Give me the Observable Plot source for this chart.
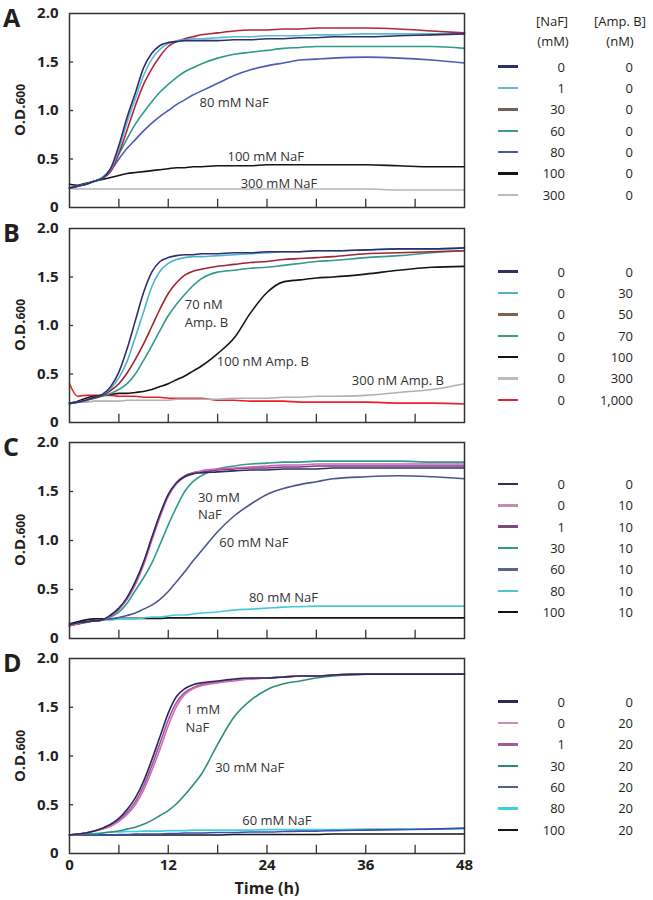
<!DOCTYPE html>
<html><head><meta charset="utf-8">
<script src="https://cdn.jsdelivr.net/npm/d3@7"></script>
<script src="https://cdn.jsdelivr.net/npm/@observablehq/plot@0.6"></script>
<style>
body{margin:0;background:#fff;font-family:"Open Sans",sans-serif;color:#231f20}
#root{position:relative;width:653px;height:900px;overflow:hidden}
.abs{position:absolute;white-space:nowrap}
.letter{font-weight:bold;font-size:25px;line-height:25px}
.ylab{font-weight:bold;font-size:15px;transform:translate(-50%,-50%) rotate(-90deg)}
.ylab span{font-size:12px}
.lg{font-size:13px;line-height:16px}
.sw{height:2.5px;width:20px}
.xt{font-weight:bold;font-size:16px;transform:translate(-50%,-50%)}
</style></head>
<body><div id="root"></div>
<script>
// ---------- data ----------
const hours = [0,1,2,3,4,5,6,7,8,9,10,11,12,13,14,15,16,18,20,22,24,26,28,30,32,36,40,44,48];
const yTickValues = [0, 0.5, 1, 1.5, 2];
const xTickHours = [6, 12, 18, 24, 30, 36, 42];
const xLabelHours = [0, 12, 24, 36, 48];

// Panel A : NaF series, no Amp. B
const nafA = ["0","1","30","60","80","100","300"];
const ampA = ["0","0","0","0","0","0","0"];
const A_naf0   = [0.20,0.22,0.24,0.27,0.30,0.40,0.64,0.93,1.18,1.44,1.59,1.67,1.70,1.71,1.72,1.72,1.72,1.72,1.73,1.73,1.74,1.74,1.75,1.75,1.76,1.76,1.77,1.78,1.79];
const A_naf1   = [0.20,0.22,0.24,0.27,0.30,0.39,0.60,0.88,1.12,1.36,1.53,1.63,1.69,1.72,1.73,1.74,1.74,1.75,1.76,1.76,1.77,1.77,1.77,1.78,1.78,1.79,1.79,1.79,1.79];
const A_naf30  = [0.20,0.22,0.24,0.27,0.30,0.37,0.56,0.80,1.05,1.27,1.43,1.56,1.66,1.71,1.74,1.76,1.78,1.80,1.82,1.83,1.83,1.84,1.84,1.85,1.85,1.85,1.84,1.82,1.80];
const A_naf60  = [0.20,0.22,0.24,0.27,0.31,0.40,0.55,0.71,0.86,0.98,1.09,1.19,1.27,1.34,1.40,1.44,1.48,1.54,1.58,1.60,1.62,1.64,1.65,1.66,1.66,1.66,1.66,1.66,1.64];
const A_naf80  = [0.20,0.22,0.24,0.27,0.30,0.38,0.50,0.61,0.70,0.79,0.87,0.94,1.00,1.06,1.11,1.16,1.20,1.28,1.36,1.42,1.46,1.49,1.52,1.53,1.54,1.55,1.54,1.52,1.49];
const A_naf100 = [0.24,0.23,0.25,0.27,0.29,0.31,0.33,0.35,0.36,0.37,0.38,0.39,0.40,0.41,0.41,0.42,0.42,0.43,0.43,0.43,0.44,0.44,0.44,0.44,0.44,0.44,0.43,0.42,0.42];
const A_naf300 = [0.20,0.19,0.19,0.19,0.19,0.19,0.19,0.19,0.19,0.19,0.19,0.19,0.19,0.19,0.19,0.19,0.19,0.19,0.19,0.19,0.19,0.19,0.19,0.19,0.19,0.19,0.18,0.18,0.18];

// Panel B : Amp. B series, no NaF
const nafB = ["0","0","0","0","0","0","0"];
const ampB = ["0","30","50","70","100","300","1,000"];
const B_amp0    = [0.20,0.21,0.23,0.26,0.29,0.37,0.52,0.76,1.05,1.34,1.55,1.66,1.70,1.72,1.73,1.73,1.74,1.74,1.75,1.75,1.76,1.76,1.76,1.77,1.77,1.78,1.79,1.79,1.80];
const B_amp30   = [0.20,0.21,0.23,0.26,0.29,0.35,0.46,0.63,0.88,1.14,1.40,1.56,1.64,1.68,1.70,1.71,1.71,1.72,1.73,1.74,1.75,1.76,1.76,1.77,1.77,1.78,1.79,1.79,1.80];
const B_amp50   = [0.20,0.21,0.23,0.25,0.28,0.33,0.40,0.51,0.65,0.81,0.99,1.17,1.33,1.44,1.52,1.56,1.58,1.61,1.63,1.65,1.66,1.68,1.69,1.70,1.71,1.74,1.75,1.76,1.77];
const B_amp70   = [0.20,0.21,0.23,0.25,0.27,0.30,0.34,0.40,0.50,0.64,0.79,0.95,1.10,1.22,1.32,1.41,1.48,1.55,1.57,1.59,1.60,1.62,1.64,1.66,1.67,1.70,1.72,1.75,1.77];
const B_amp100  = [0.19,0.22,0.25,0.27,0.28,0.29,0.30,0.30,0.31,0.32,0.34,0.37,0.40,0.44,0.48,0.53,0.58,0.71,0.87,1.13,1.34,1.45,1.47,1.49,1.50,1.53,1.57,1.60,1.61];
const B_amp300  = [0.20,0.21,0.21,0.22,0.22,0.22,0.22,0.23,0.23,0.23,0.23,0.23,0.23,0.24,0.24,0.24,0.24,0.24,0.25,0.25,0.25,0.26,0.26,0.27,0.27,0.28,0.31,0.34,0.40];
const B_amp1000 = [0.40,0.27,0.28,0.28,0.28,0.28,0.27,0.27,0.27,0.26,0.26,0.26,0.25,0.25,0.25,0.25,0.25,0.23,0.23,0.22,0.22,0.22,0.21,0.21,0.21,0.21,0.20,0.20,0.19];

// Panel C : NaF with 10 nM Amp. B
const nafC = ["0","0","1","30","60","80","100"];
const ampC = ["0","10","10","10","10","10","10"];
const C_0_0    = [0.14,0.16,0.17,0.18,0.19,0.24,0.31,0.42,0.58,0.78,1.03,1.27,1.47,1.59,1.65,1.68,1.69,1.70,1.71,1.72,1.72,1.73,1.73,1.73,1.74,1.74,1.74,1.74,1.74];
const C_0_10   = [0.13,0.15,0.17,0.18,0.19,0.23,0.30,0.40,0.55,0.75,1.00,1.24,1.45,1.58,1.65,1.69,1.71,1.73,1.74,1.75,1.76,1.77,1.77,1.78,1.78,1.78,1.78,1.78,1.78];
const C_1_10   = [0.13,0.15,0.17,0.18,0.19,0.23,0.30,0.41,0.57,0.77,1.02,1.26,1.46,1.59,1.66,1.69,1.70,1.72,1.73,1.74,1.74,1.75,1.75,1.76,1.76,1.76,1.76,1.76,1.76];
const C_30_10  = [0.13,0.15,0.17,0.18,0.19,0.22,0.27,0.36,0.49,0.62,0.77,0.96,1.16,1.34,1.50,1.60,1.66,1.73,1.76,1.78,1.79,1.80,1.80,1.81,1.81,1.81,1.81,1.80,1.80];
const C_60_10  = [0.13,0.15,0.17,0.18,0.19,0.20,0.215,0.235,0.26,0.30,0.34,0.40,0.48,0.58,0.68,0.79,0.89,1.09,1.25,1.37,1.47,1.53,1.57,1.60,1.63,1.65,1.66,1.65,1.63];
const C_80_10  = [0.14,0.15,0.16,0.18,0.19,0.19,0.20,0.20,0.20,0.21,0.22,0.22,0.23,0.24,0.24,0.25,0.26,0.27,0.29,0.30,0.31,0.32,0.325,0.33,0.33,0.33,0.33,0.33,0.33];
const C_100_10 = [0.15,0.17,0.19,0.20,0.20,0.20,0.205,0.205,0.205,0.205,0.205,0.205,0.21,0.21,0.21,0.21,0.21,0.21,0.21,0.21,0.21,0.21,0.21,0.21,0.21,0.21,0.21,0.21,0.21];

// Panel D : NaF with 20 nM Amp. B
const nafD = ["0","0","1","30","60","80","100"];
const ampD = ["0","20","20","20","20","20","20"];
const D_0_0    = [0.19,0.20,0.21,0.23,0.26,0.30,0.36,0.45,0.57,0.74,0.96,1.20,1.44,1.61,1.69,1.73,1.75,1.77,1.79,1.80,1.80,1.81,1.82,1.82,1.83,1.84,1.84,1.84,1.84];
const D_0_20   = [0.19,0.20,0.21,0.23,0.25,0.28,0.33,0.40,0.50,0.65,0.85,1.07,1.31,1.51,1.63,1.69,1.72,1.75,1.77,1.79,1.80,1.81,1.82,1.82,1.83,1.84,1.84,1.84,1.84];
const D_1_20   = [0.19,0.20,0.21,0.23,0.26,0.29,0.34,0.42,0.53,0.69,0.90,1.13,1.37,1.55,1.65,1.70,1.73,1.76,1.78,1.79,1.80,1.81,1.82,1.82,1.83,1.84,1.84,1.84,1.84];
const D_30_20  = [0.19,0.19,0.20,0.20,0.21,0.22,0.23,0.25,0.27,0.30,0.34,0.39,0.44,0.51,0.60,0.70,0.81,1.12,1.40,1.57,1.68,1.74,1.77,1.80,1.82,1.84,1.84,1.84,1.84];
const D_60_20  = [0.19,0.19,0.19,0.19,0.19,0.19,0.195,0.195,0.20,0.20,0.20,0.20,0.205,0.205,0.21,0.21,0.21,0.215,0.215,0.22,0.22,0.225,0.23,0.23,0.235,0.24,0.245,0.25,0.26];
const D_80_20  = [0.19,0.195,0.20,0.205,0.21,0.22,0.22,0.225,0.225,0.23,0.23,0.23,0.235,0.235,0.235,0.24,0.24,0.24,0.24,0.24,0.245,0.245,0.245,0.245,0.245,0.25,0.25,0.25,0.255];
const D_100_20 = [0.19,0.19,0.19,0.19,0.19,0.19,0.19,0.19,0.19,0.19,0.19,0.19,0.19,0.19,0.19,0.19,0.19,0.19,0.195,0.195,0.195,0.195,0.195,0.195,0.20,0.20,0.20,0.20,0.20];

// in-plot annotations (anchored in data units), one entry per text line
const notesA = [{t:15.8, v:1.08, label:"80 mM NaF"}, {t:19.2, v:0.52, label:"100 mM NaF"}, {t:20.8, v:0.245, label:"300 mM NaF"}];
const notesB = [{t:14.0, v:1.215, label:"70 nM"}, {t:14.0, v:1.03, label:"Amp. B"}, {t:17.9, v:0.63, label:"100 nM Amp. B"}, {t:34.3, v:0.43, label:"300 nM Amp. B"}];
const notesC = [{t:15.6, v:1.44, label:"30 mM"}, {t:15.6, v:1.26, label:"NaF"}, {t:18.2, v:0.98, label:"60 mM NaF"}, {t:21.8, v:0.41, label:"80 mM NaF"}];
const notesD = [{t:14.1, v:1.47, label:"1 mM"}, {t:14.1, v:1.29, label:"NaF"}, {t:17.7, v:0.88, label:"30 mM NaF"}, {t:21.0, v:0.33, label:"60 mM NaF"}];

// ---------- styling ----------
const colorsA  = ["#2e2f6e","#5bbbd0","#b3263a","#2f9a8b","#4d5bb5","#151515","#b5b5b5"];
const swatchA  = ["#2e2f6e","#6ab9c7","#74615a","#3a9b8c","#4a58a8","#151515","#bbbbbb"];
const colorsB  = ["#2e2f6e","#4bb3d0","#9e2630","#33998a","#151515","#b0b0b0","#e8202a"];
const swatchB  = ["#2e2f6e","#58aec5","#7d6450","#3a9b8c","#151515","#bbbbbb","#e02530"];
const colorsC  = ["#2d2d5c","#d060b8","#7b3585","#2f9d88","#4b5592","#4cc8d8","#151515"];
const swatchC  = ["#2f2f55","#c78bb5","#7b4a7e","#2e9d86","#5a6490","#58c0d0","#151515"];
const colorsD  = ["#2b2b5a","#d070b0","#a050a5","#2d8e7e","#3c4cb0","#3fd0dc","#151515"];
const swatchD  = ["#2b2b5a","#c890b0","#a05aa0","#2f8a7a","#566090","#3ad0d8","#151515"];

const panels = [
  {id:"A", top:0,   frameH:194, naf:nafA, amp:ampA, values:[A_naf0,A_naf1,A_naf30,A_naf60,A_naf80,A_naf100,A_naf300], colors:colorsA, swatch:swatchA, notes:notesA, legendY:66.7},
  {id:"B", top:215, frameH:194, naf:nafB, amp:ampB, values:[B_amp0,B_amp30,B_amp50,B_amp70,B_amp100,B_amp300,B_amp1000], colors:colorsB, swatch:swatchB, notes:notesB, legendY:271.7},
  {id:"C", top:429, frameH:196, naf:nafC, amp:ampC, values:[C_0_0,C_0_10,C_1_10,C_30_10,C_60_10,C_80_10,C_100_10], colors:colorsC, swatch:swatchC, notes:notesC, legendY:484},
  {id:"D", top:645, frameH:195, naf:nafD, amp:ampD, values:[D_0_0,D_0_20,D_1_20,D_30_20,D_60_20,D_80_20,D_100_20], colors:colorsD, swatch:swatchD, notes:notesD, legendY:701.7}
];
const MT = 13, ROW = 21.35;
const root = document.getElementById("root");

function add(html, cls, style) {
  const d = document.createElement("div");
  d.className = "abs " + cls;
  d.innerHTML = html;
  Object.assign(d.style, style);
  root.appendChild(d);
  return d;
}

panels.forEach((p, pi) => {
  const last = pi === panels.length - 1;
  const rows = p.values.flatMap((vals, k) => hours.map((t, i) => ({t, v: vals[i], k})).filter(d => d.v != null));
  const order = [6,5,4,3,2,1,0];
  const marks = [
    Plot.ruleX(xTickHours, {x: d => d, y1: 0, y2: 0.085, stroke: "#333", strokeWidth: 1.3}),
    Plot.ruleY(yTickValues.slice(1, -1), {y: d => d, x1: 0, x2: 0.5, stroke: "#333", strokeWidth: 1.3}),
    ...order.map(k => Plot.line(rows.filter(d => d.k === k), {x: "t", y: "v", stroke: p.colors[k], strokeWidth: 1.6, curve: "monotone-x"})),
    Plot.text(p.notes, {x: "t", y: "v", text: "label", textAnchor: "start", fontSize: 13, fill: "#333"}),
    Plot.frame({stroke: "#333", strokeWidth: 1.5}),
    Plot.axisY(yTickValues, {tickSize: 0, tickPadding: 11, tickFormat: d => d === 0 ? "0" : d.toFixed(1), fontSize: 15, fontWeight: "bold", label: null})
  ];
  if (last) marks.push(Plot.axisX(xLabelHours, {tickSize: 0, tickPadding: 6, fontSize: 15, fontWeight: "bold", label: null}));
  const svg = Plot.plot({
    width: 470,
    height: MT + p.frameH + (last ? 45 : 4),
    marginLeft: 69, marginRight: 6, marginTop: MT, marginBottom: last ? 45 : 4,
    x: last ? {domain: [0, 48]} : {domain: [0, 48], axis: null},
    y: {domain: [0, 2]},
    style: {fontFamily: "Open Sans", color: "#231f20", background: "transparent", overflow: "visible"},
    marks
  });
  svg.style.position = "absolute";
  svg.style.left = "0px";
  svg.style.top = p.top + "px";
  root.appendChild(svg);

  const frameTop = p.top + MT;
  add(p.id, "letter", {left: "3px", top: (frameTop - 8) + "px"});
  add('O.D.<span>600</span>', "ylab", {left: "19px", top: (frameTop + p.frameH / 2) + "px"});

  p.naf.forEach((n, i) => {
    const y = p.legendY + i * ROW;
    add("", "sw", {left: "498px", top: (y - 1.25) + "px", background: p.swatch[i]});
    add(n, "lg", {right: (653 - 565) + "px", top: (y - 8) + "px"});
    add(p.amp[i], "lg", {right: (653 - 633) + "px", top: (y - 8) + "px"});
  });
});

// legend headers
add("[NaF]", "lg", {left: "552px", top: "13px", transform: "translateX(-50%)"});
add("(mM)", "lg", {left: "553px", top: "33px", transform: "translateX(-50%)"});
add("[Amp. B]", "lg", {left: "620px", top: "13px", transform: "translateX(-50%)"});
add("(nM)", "lg", {left: "620px", top: "33px", transform: "translateX(-50%)"});

// x-axis title
add("Time (h)", "xt", {left: "267px", top: "888px"});
</script>
</body></html>
